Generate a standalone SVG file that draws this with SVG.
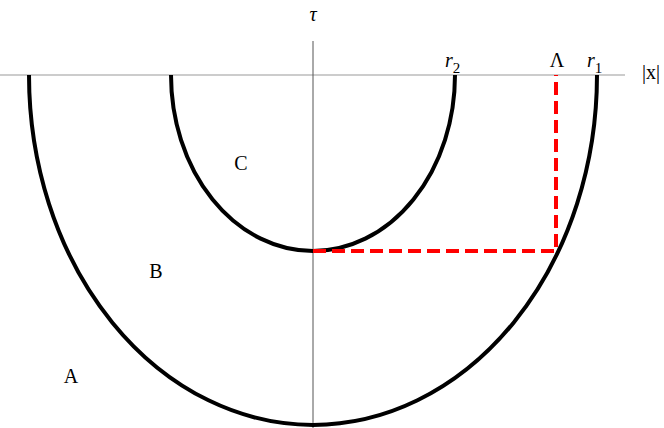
<svg xmlns="http://www.w3.org/2000/svg" width="664" height="428" viewBox="0 0 664 428">
<style>
.lbl{font-family:"Liberation Serif",serif;font-size:20px;fill:#000}
.curve{fill:none;stroke:#000;stroke-width:4}
</style>
<rect width="664" height="428" fill="#fff"/>
<g id="axes">
<line x1="0" y1="75" x2="625" y2="75" stroke="#999" stroke-width="1"/>
<line x1="313" y1="41" x2="313" y2="428" stroke="#555" stroke-width="1"/>
</g>
<g id="outer"><path class="curve" d="M29,75 A284,350 0 0 0 597,75"/></g>
<g id="inner"><path class="curve" d="M171,75 A142,176 0 0 0 455,75"/></g>
<g id="connectors">
<path d="M313,251 H556 V75" fill="none" stroke="#f00" stroke-width="4" stroke-dasharray="13,6"/>
</g>
<g id="labels">
<text class="lbl" x="313" y="21" text-anchor="middle" font-style="italic">τ</text>
<text class="lbl" x="445" y="67" font-style="italic">r<tspan font-size="15" dy="6" font-style="normal">2</tspan></text>
<text class="lbl" x="557" y="67" text-anchor="middle">Λ</text>
<text class="lbl" x="587" y="67" font-style="italic">r<tspan font-size="15" dy="6" font-style="normal">1</tspan></text>
<text class="lbl" x="642" y="79">|x|</text>
<text class="lbl" x="241" y="170" text-anchor="middle">C</text>
<text class="lbl" x="156" y="278" text-anchor="middle">B</text>
<text class="lbl" x="71" y="383" text-anchor="middle">A</text>
</g>
</svg>
